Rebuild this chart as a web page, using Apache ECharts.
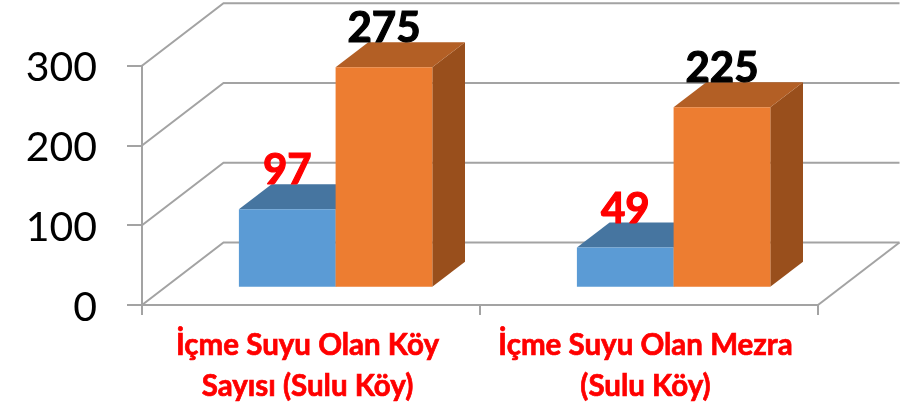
<!DOCTYPE html>
<html>
<head>
<meta charset="utf-8">
<style>html,body{margin:0;padding:0;background:#fff}#c{width:909px;height:408px}</style>
<script src="https://cdn.jsdelivr.net/npm/echarts@6/dist/echarts.min.js"></script>
</head>
<body>
<div id="c"></div>
<script>
const categories = ['İçme Suyu Olan Köy\nSayısı (Sulu Köy)', 'İçme Suyu Olan Mezra\n(Sulu Köy)'];
const blueValues = [97, 49];
const orangeValues = [275, 225];
const yTicks = [0, 100, 200, 300];

const AXIS = '#a3a3a3';
const LINE_W = 2;
const FONT = 'Lato, "Open Sans", sans-serif';
const WALL = { dx: 81.5, dy: -62.5 };
const BASE = { dx: 24.6, dy: -18.3 };
const DEPTH = { dx: 32.7, dy: -25 };
const BAR_W = 96.7;

function wallItem(params, api) {
  const cs = params.coordSys;
  const p = api.coord([0, api.value(1)]);
  const y = p[1], x0 = cs.x, x1 = cs.x + cs.width;
  const style = { stroke: AXIS, lineWidth: LINE_W, fill: null };
  const children = [{
    type: 'polyline',
    shape: { points: [[x0, y], [x0 + WALL.dx, y + WALL.dy], [x1 + WALL.dx, y + WALL.dy]] },
    style
  }];
  if (api.value(1) === 0) {
    children.push({
      type: 'line',
      shape: { x1: x1, y1: y, x2: x1 + WALL.dx, y2: y + WALL.dy },
      style
    });
  }
  return { type: 'group', children };
}

function barRenderer(side, colors, labelColor) {
  return function (params, api) {
    const cat = api.value(0), val = api.value(1);
    const c = api.coord([cat, val]);
    const z = api.coord([cat, 0]);
    const xMid = c[0] + BASE.dx;
    const xa = side < 0 ? xMid - BAR_W : xMid;
    const xb = xa + BAR_W;
    const yt = c[1] + BASE.dy;
    const yb = z[1] + BASE.dy;
    const d = DEPTH;
    return {
      type: 'group',
      children: [
        { type: 'polygon', shape: { points: [[xb, yt], [xb + d.dx, yt + d.dy], [xb + d.dx, yb + d.dy], [xb, yb]] }, style: { fill: colors.side } },
        { type: 'polygon', shape: { points: [[xa, yt], [xa + d.dx, yt + d.dy], [xb + d.dx, yt + d.dy], [xb, yt]] }, style: { fill: colors.top } },
        { type: 'rect', shape: { x: xa, y: yt, width: BAR_W, height: yb - yt }, style: { fill: colors.front } },
        { type: 'text', z2: 10, style: { x: (xa + xb) / 2, y: yt - 38.5, text: String(val), fill: labelColor, stroke: labelColor, lineWidth: 1.2, font: 'bold 42px ' + FONT, align: 'center', verticalAlign: 'middle' } }
      ]
    };
  };
}

const chart = echarts.init(document.getElementById('c'), null, { renderer: 'canvas' });
chart.setOption({
  animation: false,
  backgroundColor: '#fff',
  grid: { left: 142, top: 65.7, width: 676, height: 239.3, containLabel: false },
  xAxis: {
    type: 'category',
    data: categories,
    axisLine: { lineStyle: { color: AXIS, width: LINE_W } },
    axisTick: { show: true, length: 10, lineStyle: { color: AXIS, width: LINE_W } },
    axisLabel: { color: '#ff0000', fontFamily: FONT, fontWeight: 'bold', fontSize: 29.5, lineHeight: 41, margin: 20, interval: 0, padding: [0, 7, 0, 0], textBorderColor: '#ff0000', textBorderWidth: 0.7 }
  },
  yAxis: {
    type: 'value', min: 0, max: 300, interval: 100,
    splitLine: { show: false },
    axisLine: { show: true, lineStyle: { color: AXIS, width: LINE_W } },
    axisTick: { show: true, length: 15, lineStyle: { color: AXIS, width: LINE_W } },
    axisLabel: { color: '#000', fontFamily: FONT, fontSize: 41, margin: 45, verticalAlign: 'top', lineHeight: 5, customValues: yTicks }
  },
  series: [
    { type: 'custom', name: 'walls', z: 1, silent: true, renderItem: wallItem, encode: { x: 0, y: 1 }, data: yTicks.map(v => [0, v]) },
    { type: 'custom', name: 'A', z: 2, silent: true, encode: { x: 0, y: 1 },
      renderItem: barRenderer(-1, { front: '#5b9bd5', top: '#4675a0', side: '#36618a' }, '#ff0000'),
      data: blueValues.map((v, i) => [i, v]) },
    { type: 'custom', name: 'B', z: 3, silent: true, encode: { x: 0, y: 1 },
      renderItem: barRenderer(1, { front: '#ed7d31', top: '#b35f25', side: '#994f1c' }, '#000000'),
      data: orangeValues.map((v, i) => [i, v]) }
  ]
});
</script>
</body>
</html>
